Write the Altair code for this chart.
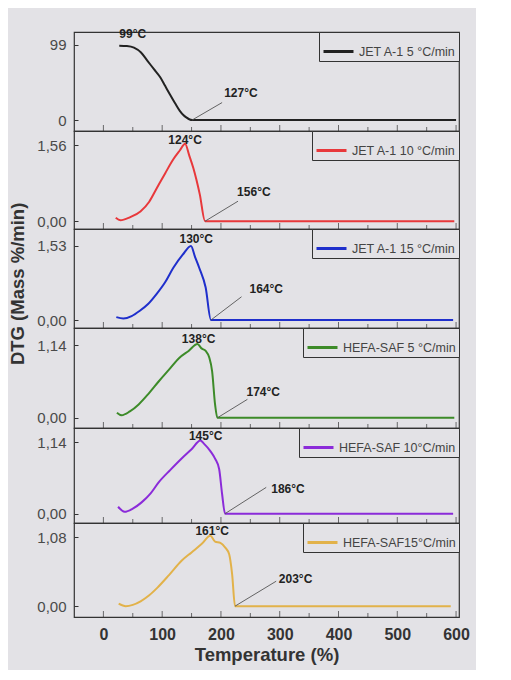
import altair as alt
import pandas as pd

BG = "#e3e2e6"

names = ["JET A-1 5 °C/min", "JET A-1 10 °C/min", "JET A-1 15 °C/min",
         "HEFA-SAF 5 °C/min", "HEFA-SAF 10°C/min", "HEFA-SAF15°C/min"]
colors = ["#222222", "#e8383b", "#1f2fcc", "#3d8b29", "#8b2bd9", "#e2b24a"]

t1 = [27, 40, 52, 64, 75, 86, 97, 105, 113, 122, 130, 136, 141, 146, 151, 600]
v1 = [98, 97.5, 95.4, 89, 78, 67, 56, 45, 34, 22, 12, 6.5, 3.4, 1, 0, 0]
t2 = [21, 29, 45, 63, 78, 91, 105, 119, 130, 139, 146, 153, 164, 173, 597]
v2 = [0.07, 0.02, 0.08, 0.2, 0.4, 0.68, 0.98, 1.27, 1.45, 1.59, 1.35, 1.09, 0.55, 0.0, 0.0]
t3 = [22, 34, 48, 62, 76, 90, 105, 119, 135, 149, 156, 163, 174, 183, 595]
v3 = [0.06, 0.03, 0.08, 0.19, 0.33, 0.53, 0.78, 1.08, 1.35, 1.53, 1.3, 1.08, 0.67, 0.0, 0.0]
t4 = [23, 31, 45, 60, 77, 94, 112, 129, 145, 160, 167, 174, 180, 185, 190, 194, 597]
v4 = [0.08, 0.04, 0.1, 0.21, 0.38, 0.57, 0.76, 0.94, 1.05, 1.16, 1.09, 1.05, 0.95, 0.73, 0.21, 0.0, 0.0]
t5 = [25, 36, 50, 65, 80, 94, 114, 134, 150, 165, 171, 182, 190, 197, 202, 207, 595]
v5 = [0.11, 0.03, 0.08, 0.18, 0.32, 0.50, 0.70, 0.89, 1.03, 1.17, 1.12, 1.00, 0.88, 0.71, 0.31, 0.0, 0.0]
t6 = [26, 38, 50, 64, 78, 92, 112, 133, 150, 167, 182, 190, 199, 207, 214, 219, 224, 591]
v6 = [0.04, 0.0, 0.02, 0.08, 0.17, 0.29, 0.49, 0.71, 0.84, 0.97, 1.10, 1.01, 0.99, 0.92, 0.81, 0.50, 0.0, 0.0]

temps = [t1, t2, t3, t4, t5, t6]
vals = [v1, v2, v3, v4, v5, v6]

y_major = [[0, 33, 66, 99], [0, 0.52, 1.04, 1.56], [0, 0.51, 1.02, 1.53],
           [0, 0.38, 0.76, 1.14], [0, 0.38, 0.76, 1.14], [0, 0.36, 0.72, 1.08]]
y_domains = [[-14.5, 116], [-0.16, 1.85], [-0.165, 1.88],
             [-0.16, 1.41], [-0.15, 1.37], [-0.17, 1.30]]

peak_txt = ["99°C", "124°C", "130°C", "138°C", "145°C", "161°C"]
peak_t = [50, 139, 158, 162, 174, 185]
peak_v = [113, 1.66, 1.67, 1.23, 1.24, 1.18]
end_txt = ["127°C", "156°C", "164°C", "174°C", "186°C", "203°C"]
end_t = [234, 256, 277, 272, 314, 327]
end_v = [35, 0.60, 0.65, 0.41, 0.40, 0.42]
lead_t0 = [151, 173, 183, 194, 207, 224]
lead_t1 = [202, 229, 235, 245, 277, 294]
lead_v1 = [23, 0.41, 0.48, 0.29, 0.42, 0.39]

heights = [99, 98, 99, 100, 95, 94]
x_major = list(range(0, 601, 100))
x_minor = list(range(50, 601, 100))
X_DOMAIN = [-50, 605]
Y_TITLE = "DTG (Mass %/min)"

panels = []
for i in range(6):
    last = i == 5
    h = heights[i]
    df = pd.DataFrame({"T": temps[i], "V": vals[i], "s": names[i]})
    maj = y_major[i]
    step = maj[1] - maj[0]
    ticks = []
    for m in maj:
        ticks.append(m)
        if m != maj[-1]:
            ticks.append(round(m + step / 2, 4))
    maj_js = "[" + ",".join(str(m) for m in maj) + "]"
    if i == 0:
        fmt = "format(datum.value, 'd')"
    else:
        fmt = "replace(format(datum.value, '.2f'), '.', ',')"
    lab_expr = f"indexof({maj_js}, datum.value) >= 0 ? {fmt} : ''"

    if last:
        x_axis = alt.Axis(
            values=x_major, ticks=False, grid=False, domain=False,
            title="Temperature (%)", labelOverlap=False,
            labelFont="Liberation Sans", labelFontSize=16, labelFontWeight="bold",
            labelColor="#333", titleFont="Liberation Sans", titleFontSize=18.5,
            titleFontWeight="bold", titleColor="#333", labelPadding=9, titlePadding=3,
        )
    else:
        x_axis = None

    y_axis = alt.Axis(
        values=ticks, labelExpr=lab_expr, grid=False, title=None,
        tickSize=4, tickColor="#333", domain=False, offset=-4,
        labelFont="Liberation Sans", labelFontSize=15, labelColor="#4a4a4a",
        labelPadding=8, labelOverlap=False,
    )

    xs = alt.X("T:Q", scale=alt.Scale(domain=X_DOMAIN, nice=False, zero=False), axis=x_axis)
    ys = alt.Y("V:Q", scale=alt.Scale(domain=y_domains[i], nice=False, zero=False), axis=y_axis)

    line = alt.Chart(df).mark_line(strokeWidth=2, interpolate="monotone").encode(
        x=xs, y=ys,
        color=alt.Color("s:N", scale=alt.Scale(domain=[names[i]], range=[colors[i]]),
                        legend=alt.Legend(title=None, orient="top-right")),
    )
    tk_major = alt.Chart(pd.DataFrame({"T": x_major})).mark_tick(
        orient="vertical", size=6, thickness=1, color="#333").encode(
        x=alt.X("T:Q"), y=alt.value(h - 3))
    tk_minor = alt.Chart(pd.DataFrame({"T": x_minor})).mark_tick(
        orient="vertical", size=4, thickness=1, color="#333").encode(
        x=alt.X("T:Q"), y=alt.value(h - 2))
    lead_df = pd.DataFrame({"T": [lead_t0[i]], "V": [0], "T2": [lead_t1[i]], "V2": [lead_v1[i]]})
    lead = alt.Chart(lead_df).mark_rule(color="#555", strokeWidth=0.9).encode(
        x=alt.X("T:Q"), y=alt.Y("V:Q"), x2="T2:Q", y2="V2:Q")
    ann_df = pd.DataFrame({"T": [peak_t[i], end_t[i]], "V": [peak_v[i], end_v[i]],
                           "txt": [peak_txt[i], end_txt[i]]})
    ann = alt.Chart(ann_df).mark_text(font="Liberation Sans", fontSize=12,
                                      fontWeight="bold", color="#222").encode(
        x=alt.X("T:Q"), y=alt.Y("V:Q"), text="txt:N")
    panel = alt.layer(line, tk_major, tk_minor, lead, ann).properties(width=385, height=h)
    panels.append(panel)

chart = alt.vconcat(*panels, spacing=0, bounds="flush").resolve_scale(
    color="independent", y="independent"
).resolve_legend(color="independent").properties(
    title=alt.TitleParams(Y_TITLE, orient="left", anchor="middle",
                          font="Liberation Sans", fontSize=18.5, fontWeight="bold",
                          color="#333", offset=9, dx=62),
    padding={"top": 19, "left": 0, "right": 5, "bottom": 5},
    background=BG,
).configure_view(
    stroke="#333", strokeWidth=1.2, fill=BG
).configure_legend(
    strokeColor="#333", fillColor=BG, padding=3, offset=0, cornerRadius=0,
    symbolType="stroke", symbolSize=900, symbolStrokeWidth=3,
    labelFont="Liberation Sans", labelFontSize=12.5, labelColor="#444",
    labelLimit=300, symbolOffset=0,
)

chart.save("out.html", embed_options={"renderer": "svg", "actions": False})
